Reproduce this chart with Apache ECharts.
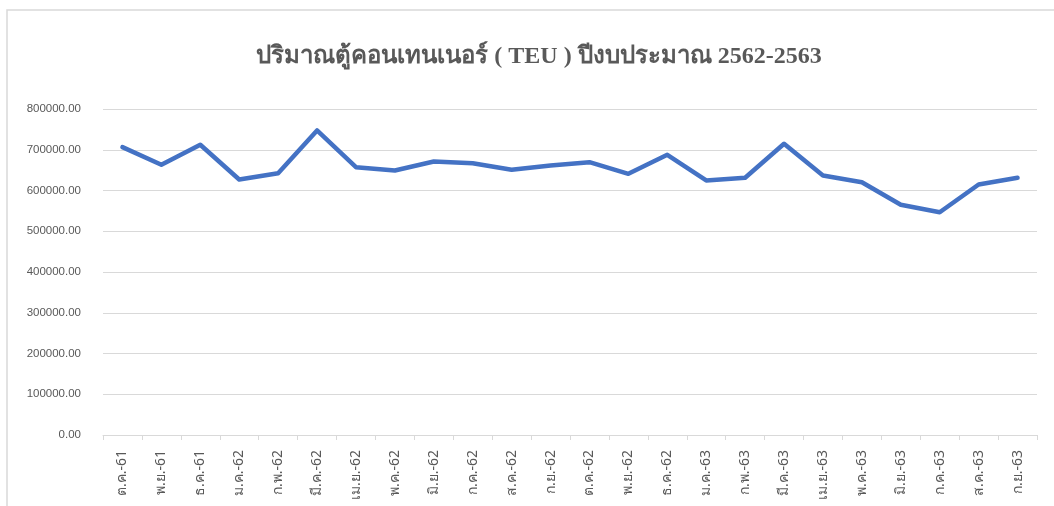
<!DOCTYPE html>
<html>
<head>
<meta charset="utf-8">
<script src="https://cdn.jsdelivr.net/npm/echarts@6/dist/echarts.min.js"></script>
<style>
html,body{margin:0;padding:0;background:#fff;}
#chart{width:1054px;height:506px;}
</style>
</head>
<body>
<div id="chart"></div>
<script>
const titleText = 'ปริมาณตู้คอนเทนเนอร์ ( TEU ) ปีงบประมาณ 2562-2563';
const categories = ['ต.ค.-61','พ.ย.-61','ธ.ค.-61','ม.ค.-62','ก.พ.-62','มี.ค.-62','เม.ย.-62','พ.ค.-62','มิ.ย.-62','ก.ค.-62','ส.ค.-62','ก.ย.-62','ต.ค.-62','พ.ย.-62','ธ.ค.-62','ม.ค.-63','ก.พ.-63','มี.ค.-63','เม.ย.-63','พ.ค.-63','มิ.ย.-63','ก.ค.-63','ส.ค.-63','ก.ย.-63'];
const teu = [706400,663100,712300,627000,642500,747400,657200,649100,671300,667100,650900,661400,669500,641000,687700,624600,631200,714700,636900,620400,564900,546700,614700,631200];
const yMin = 0, yMax = 800000, yStep = 100000;

const chart = echarts.init(document.getElementById('chart'));
chart.setOption({
  animation:false,
  backgroundColor:'#fff',
  graphic:[{type:'rect',shape:{x:7,y:10,width:1100,height:600},style:{fill:'none',stroke:'#d9d9d9',lineWidth:1.5},silent:true}],
  title:{text:titleText,left:534,textAlign:'center',top:40,textStyle:{fontFamily:'Liberation Serif',fontWeight:'bold',fontSize:24,color:'#595959'}},
  grid:{left:103,right:17,top:109,bottom:71,containLabel:false},
  xAxis:{type:'category',data:categories,boundaryGap:true,
    axisLine:{lineStyle:{color:'#d9d9d9',width:1}},
    axisTick:{show:true,length:5,lineStyle:{color:'#d9d9d9'}},
    axisLabel:{rotate:90,interval:0,margin:15,fontSize:14,color:'#595959',fontFamily:'Noto Sans'}},
  yAxis:{type:'value',min:yMin,max:yMax,interval:yStep,
    axisLine:{show:false},axisTick:{show:false},
    splitLine:{lineStyle:{color:'#d9d9d9',width:1}},
    axisLabel:{margin:22,fontSize:11.5,color:'#595959',fontFamily:'Liberation Sans',formatter:v=>v.toFixed(2)}},
  series:[{type:'line',data:teu,showSymbol:false,symbol:'none',lineStyle:{color:'#4472C4',width:4.5,cap:'round',join:'round'}}]
});
</script>
</body>
</html>
